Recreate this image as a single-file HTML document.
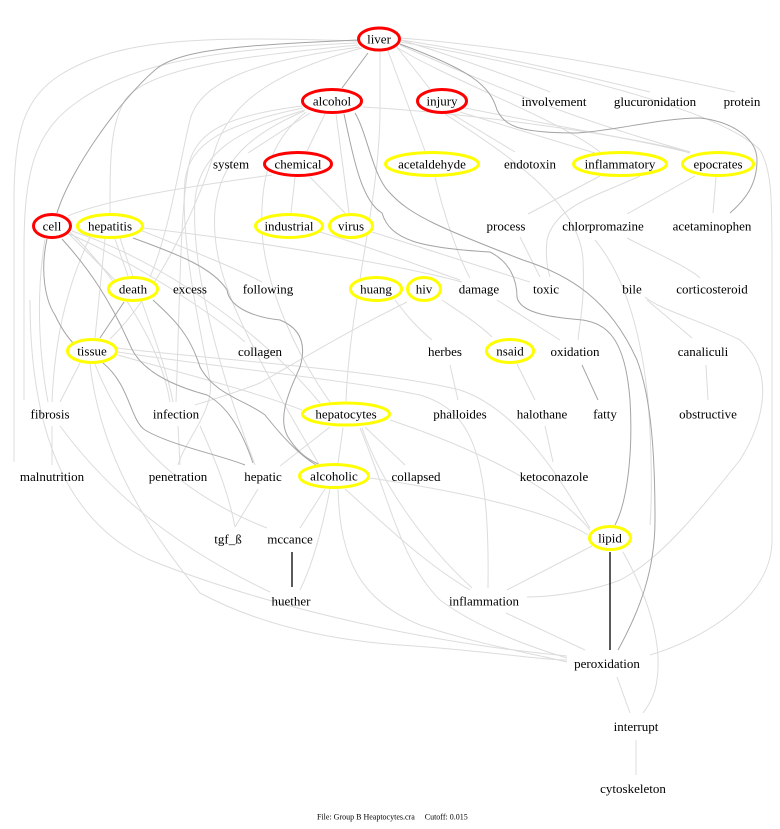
<!DOCTYPE html>
<html><head><meta charset="utf-8"><style>
html,body{margin:0;padding:0;background:#fff;}
svg{display:block;}
text{font-family:"Liberation Serif",serif;font-size:13px;fill:#000;}
.l{fill:none;stroke:#dcdcdc;stroke-width:1;}
.d{fill:none;stroke:#a4a4a4;stroke-width:1;}
.b{fill:none;stroke:#000;stroke-width:1.3;}
.r{fill:#fff;stroke:#ff0000;stroke-width:3;}
.y{fill:#fff;stroke:#ffff00;stroke-width:3;}
</style></head><body>
<svg width="780" height="829" viewBox="0 0 780 829" xmlns="http://www.w3.org/2000/svg">
<rect width="780" height="829" fill="#fff"/>
<g>
<!-- light edges -->
<path class="l" d="M357,41 C200,36 120,38 60,75 C25,98 14,130 14,200 L14,462"/>
<path class="l" d="M357,43 C240,48 140,58 80,100 C35,130 24,170 24,250 L24,400"/>
<path class="l" d="M358,45 C260,55 150,65 125,100 C110,125 110,160 110,213"/>
<path class="l" d="M360,47 C260,60 200,80 190,120 C180,160 170,230 150,277"/>
<path class="l" d="M362,48 C280,70 230,100 215,150 C200,200 160,290 110,339"/>
<path class="l" d="M380,52 L380,110 C380,200 350,300 346,401"/>
<path class="l" d="M388,51 L425,151"/>
<path class="l" d="M396,46 L430,89"/>
<path class="l" d="M401,40 C450,55 520,80 550,92"/>
<path class="l" d="M401,40 C500,55 600,80 650,92"/>
<path class="l" d="M401,38 C550,50 680,80 735,92"/>
<path class="l" d="M398,48 C450,80 560,120 600,152"/>
<path class="l" d="M400,45 C480,80 560,115 690,152"/>
<path class="l" d="M401,42 C560,70 720,110 760,150 C772,170 772,200 772,260 L772,540 C772,600 700,640 650,655"/>
<path class="l" d="M310,113 L248,153"/>
<path class="l" d="M325,114 L307,151"/>
<path class="l" d="M336,114 L349,213"/>
<path class="l" d="M363,107 C450,112 600,130 690,152"/>
<path class="l" d="M302,106 C230,115 200,130 190,160 C180,200 180,300 176,402"/>
<path class="l" d="M303,108 C220,125 190,145 185,180 C180,240 200,330 210,380 C215,410 185,440 178,465"/>
<path class="l" d="M305,110 C240,130 200,150 195,200 C190,280 230,400 255,465"/>
<path class="l" d="M306,112 C270,140 260,180 262,230 C265,290 300,360 330,402"/>
<path class="l" d="M304,111 C250,135 220,160 215,210 C210,270 240,330 320,466"/>
<path class="l" d="M272,175 C200,185 110,198 68,216"/>
<path class="l" d="M295,177 L291,213"/>
<path class="l" d="M310,177 L345,213"/>
<path class="l" d="M115,239 L128,276"/>
<path class="l" d="M105,239 L95,338"/>
<path class="l" d="M140,230 C190,250 240,270 262,282"/>
<path class="l" d="M143,228 C250,240 400,265 462,282"/>
<path class="l" d="M90,237 C70,280 55,330 52,402"/>
<path class="l" d="M120,238 C140,300 165,360 173,402"/>
<path class="l" d="M68,233 L115,280"/>
<path class="l" d="M45,239 C35,300 40,360 48,402"/>
<path class="l" d="M70,232 C110,270 160,340 170,402"/>
<path class="l" d="M70,234 C150,270 220,320 245,342"/>
<path class="l" d="M72,231 C160,260 260,330 320,403"/>
<path class="l" d="M118,355 C170,370 250,390 302,410"/>
<path class="l" d="M118,352 C200,365 350,380 420,395 C470,410 490,450 488,588"/>
<path class="l" d="M116,348 C220,360 380,370 460,390 C520,410 560,480 590,528"/>
<path class="l" d="M80,363 L60,402"/>
<path class="l" d="M90,364 C100,450 140,520 200,593 C260,625 330,640 400,645 C480,650 540,660 567,660"/>
<path class="l" d="M60,426 C100,480 160,540 270,592"/>
<path class="l" d="M30,300 C30,420 60,520 150,560 C250,600 400,640 567,656"/>
<path class="l" d="M52,426 L52,465"/>
<path class="l" d="M178,426 L180,465"/>
<path class="l" d="M200,426 C220,470 230,500 235,527"/>
<path class="l" d="M95,364 C120,430 170,490 267,528"/>
<path class="l" d="M330,427 L280,466"/>
<path class="l" d="M343,428 L338,463"/>
<path class="l" d="M365,427 L405,465"/>
<path class="l" d="M362,428 C380,480 420,540 472,588"/>
<path class="l" d="M360,428 C390,500 400,560 440,600 C480,630 540,650 567,658"/>
<path class="l" d="M390,420 C450,440 550,480 590,530"/>
<path class="l" d="M370,478 C450,490 550,510 588,535"/>
<path class="l" d="M330,489 C320,540 310,570 300,590"/>
<path class="l" d="M325,489 L300,528"/>
<path class="l" d="M345,489 C380,520 420,560 470,590"/>
<path class="l" d="M338,489 C340,560 360,600 420,625 C480,645 540,655 567,662"/>
<path class="l" d="M258,489 L235,527"/>
<path class="l" d="M452,114 L515,152"/>
<path class="l" d="M465,108 C550,125 640,140 690,153"/>
<path class="l" d="M460,112 L595,153"/>
<path class="l" d="M600,176 L528,214"/>
<path class="l" d="M716,177 L713,213"/>
<path class="l" d="M695,176 L627,214"/>
<path class="l" d="M435,177 C445,220 460,260 470,278"/>
<path class="l" d="M520,237 L540,277"/>
<path class="l" d="M627,238 C660,255 690,268 700,278"/>
<path class="l" d="M640,176 C600,195 555,205 547,240 C545,260 548,270 550,277"/>
<path class="l" d="M445,114 C500,150 580,200 583,260 C585,300 580,320 578,340"/>
<path class="l" d="M595,240 C620,270 640,320 648,400 C652,450 652,500 650,525"/>
<path class="l" d="M645,297 C660,310 700,320 740,340 C775,370 765,420 740,460 C700,510 660,560 620,580 C590,592 550,597 527,597"/>
<path class="l" d="M372,232 C430,250 490,270 530,282"/>
<path class="l" d="M320,232 C380,250 430,270 460,280"/>
<path class="l" d="M395,300 C410,320 420,330 432,340"/>
<path class="l" d="M442,300 C460,312 480,325 492,337"/>
<path class="l" d="M407,302 C350,330 300,360 260,383 C230,395 210,400 195,405"/>
<path class="l" d="M497,300 L560,340"/>
<path class="l" d="M450,365 L458,400"/>
<path class="l" d="M517,364 L535,400"/>
<path class="l" d="M545,426 L553,462"/>
<path class="l" d="M706,365 L708,400"/>
<path class="l" d="M647,300 L692,338"/>
<path class="l" d="M592,546 L507,590"/>
<path class="l" d="M623,552 C650,600 665,650 655,690 C650,705 645,710 643,713"/>
<path class="l" d="M617,677 L630,713"/>
<path class="l" d="M636,740 L636,775"/>
<path class="l" d="M506,613 L585,650"/>
<!-- dark edges -->
<path class="d" d="M358,40 C250,45 180,48 155,70 C120,100 70,170 57,213"/>
<path class="d" d="M368,53 L342,88"/>
<path class="d" d="M400,44 C470,70 490,85 497,110 C505,125 515,133 577,133 C620,130 660,118 700,118 C735,122 757,140 757,160 C757,185 745,200 730,213"/>
<path class="d" d="M344,114 C352,150 360,200 382,213 C390,240 420,248 490,252 C510,262 517,280 517,297 C520,315 560,318 583,320 C605,324 625,335 630,400 C633,450 628,500 615,525"/>
<path class="d" d="M355,113 C368,135 372,175 390,193 C410,215 440,228 523,260 C570,275 610,300 637,360 C652,400 655,460 655,520 C655,570 640,610 618,650"/>
<path class="d" d="M133,238 C180,255 213,268 227,290 C230,310 260,318 280,320 C305,330 305,350 300,367 C290,390 275,420 290,440 C300,455 310,460 318,464"/>
<path class="d" d="M153,300 C175,320 190,335 200,367 C215,395 245,400 265,415 C285,440 300,455 316,465"/>
<path class="d" d="M47,239 C40,270 45,300 55,315 C62,330 70,340 75,345"/>
<path class="d" d="M62,239 C90,270 110,300 130,345 C140,370 170,385 207,395 C225,405 240,425 253,463"/>
<path class="d" d="M103,363 C130,385 130,420 145,430 C170,445 220,455 245,465"/>
<path class="d" d="M124,302 L100,338"/>
<path class="d" d="M582,365 L598,400"/>
<!-- black edges -->
<path class="b" d="M292,552 L292,587"/>
<path class="b" d="M610,552 L610,650"/>
</g>
<g>
<ellipse class="r" cx="379" cy="39" rx="20.5" ry="11"/>
<ellipse class="r" cx="332" cy="101" rx="29.5" ry="11.5"/>
<ellipse class="r" cx="442" cy="101" rx="24.5" ry="11.5"/>
<ellipse class="r" cx="298" cy="164" rx="33.5" ry="11.5"/>
<ellipse class="y" cx="432" cy="164" rx="46.5" ry="11.5"/>
<ellipse class="y" cx="620" cy="164" rx="46.5" ry="11.5"/>
<ellipse class="y" cx="718" cy="164" rx="35.5" ry="11.5"/>
<ellipse class="r" cx="52" cy="226" rx="18.5" ry="11.5"/>
<ellipse class="y" cx="110" cy="226" rx="32.5" ry="11.5"/>
<ellipse class="y" cx="289" cy="226" rx="33.5" ry="11.5"/>
<ellipse class="y" cx="351" cy="226" rx="21.5" ry="11.5"/>
<ellipse class="y" cx="133" cy="289" rx="24.5" ry="11.5"/>
<ellipse class="y" cx="376" cy="289" rx="25.5" ry="11.5"/>
<ellipse class="y" cx="424" cy="289" rx="16.5" ry="11.5"/>
<ellipse class="y" cx="92" cy="351" rx="24.5" ry="11.5"/>
<ellipse class="y" cx="510" cy="351" rx="23.5" ry="11.5"/>
<ellipse class="y" cx="346" cy="414" rx="43.5" ry="11"/>
<ellipse class="y" cx="334" cy="476" rx="34.5" ry="11.5"/>
<ellipse class="y" cx="610" cy="538" rx="20.5" ry="11.5"/>
</g>
<g text-anchor="middle">
<text x="379" y="43.5">liver</text>
<text x="332" y="105.5">alcohol</text>
<text x="442" y="105.5">injury</text>
<text x="554" y="106">involvement</text>
<text x="655" y="106">glucuronidation</text>
<text x="742" y="106">protein</text>
<text x="231" y="168.5">system</text>
<text x="298" y="168.5">chemical</text>
<text x="432" y="168.5">acetaldehyde</text>
<text x="530" y="168.5">endotoxin</text>
<text x="620" y="168.5">inflammatory</text>
<text x="718" y="168.5">epocrates</text>
<text x="52" y="230.5">cell</text>
<text x="110" y="230.5">hepatitis</text>
<text x="289" y="230.5">industrial</text>
<text x="351" y="230.5">virus</text>
<text x="506" y="230.5">process</text>
<text x="603" y="230.5">chlorpromazine</text>
<text x="712" y="230.5">acetaminophen</text>
<text x="133" y="293.5">death</text>
<text x="190" y="293.5">excess</text>
<text x="268" y="293.5">following</text>
<text x="376" y="293.5">huang</text>
<text x="424" y="293.5">hiv</text>
<text x="479" y="293.5">damage</text>
<text x="546" y="293.5">toxic</text>
<text x="632" y="293.5">bile</text>
<text x="712" y="293.5">corticosteroid</text>
<text x="92" y="355.5">tissue</text>
<text x="260" y="356">collagen</text>
<text x="445" y="356">herbes</text>
<text x="510" y="355.5">nsaid</text>
<text x="575" y="356">oxidation</text>
<text x="703" y="356">canaliculi</text>
<text x="50" y="418.5">fibrosis</text>
<text x="176" y="418.5">infection</text>
<text x="346" y="418.5">hepatocytes</text>
<text x="460" y="418.5">phalloides</text>
<text x="542" y="418.5">halothane</text>
<text x="605" y="418.5">fatty</text>
<text x="708" y="418.5">obstructive</text>
<text x="52" y="481">malnutrition</text>
<text x="178" y="481">penetration</text>
<text x="263" y="481">hepatic</text>
<text x="334" y="480.5">alcoholic</text>
<text x="416" y="481">collapsed</text>
<text x="554" y="481">ketoconazole</text>
<text x="228" y="543.5">tgf_ß</text>
<text x="290" y="543.5">mccance</text>
<text x="610" y="542.5">lipid</text>
<text x="291" y="605.5">huether</text>
<text x="484" y="605.5">inflammation</text>
<text x="607" y="668">peroxidation</text>
<text x="636" y="731">interrupt</text>
<text x="633" y="793">cytoskeleton</text>
</g>
<text x="317" y="819.5" style="font-size:8px">File: Group B Heaptocytes.cra &#160;&#160;&#160;&#160;Cutoff: 0.015</text>
</svg>
</body></html>
